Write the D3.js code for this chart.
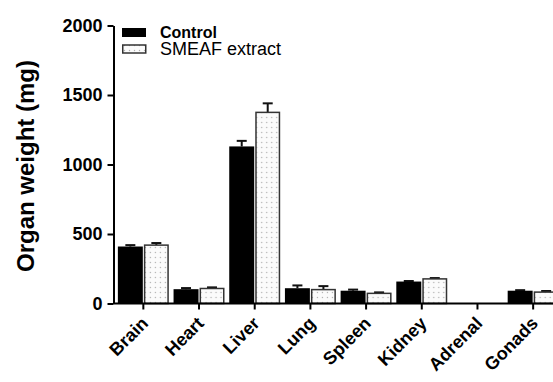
<!DOCTYPE html>
<head>
<meta charset="utf-8">
<style>
body { margin: 0; background: #fff; }
text { font-family: "Liberation Sans", Arial, sans-serif; }
.axis path, .axis line { stroke: #000; stroke-width: 2px; }
.axis text { font-size: 18px; font-weight: bold; fill: #000; }
</style>
</head>
<body>
<script src="https://cdn.jsdelivr.net/npm/d3@7"></script>
<script>

// data
var organs = ["Brain", "Heart", "Liver", "Lung", "Spleen", "Kidney", "Adrenal", "Gonads"];
var controlMean = [410, 103, 1130, 110, 92, 158, 0, 92];
var controlErr  = [10, 8, 40, 20, 8, 4, 0, 4];
var smeafMean   = [420, 108, 1375, 100, 73, 177, 0, 82];
var smeafErr    = [15, 8, 65, 25, 7, 6, 0, 8];
var groups = ["Control", "SMEAF extract"];
var yTicks = [0, 500, 1000, 1500, 2000];

var width = 553, height = 382;

var svg = d3.select("body").append("svg")
    .attr("width", width)
    .attr("height", height);

// dotted fill for the extract bars
var pat = svg.append("defs").append("pattern")
    .attr("id", "dots")
    .attr("patternUnits", "userSpaceOnUse")
    .attr("width", 5).attr("height", 5);
pat.append("rect").attr("width", 5).attr("height", 5).attr("fill", "#fbfbfb");
pat.append("circle").attr("cx", 2.5).attr("cy", 2.5).attr("r", 0.7).attr("fill", "#b0b0b0");

// scales
var x = d3.scaleBand().domain(organs).range([115.5, 561])
    .paddingInner(0.085).paddingOuter(0.0425);
var xSub = d3.scaleBand().domain(groups).range([0, x.bandwidth()]).paddingInner(0.04);
var y = d3.scaleLinear().domain([0, 2000]).range([303.5, 25.5]);

var rows = organs.map(function(o, i) {
  return [
    {organ: o, group: groups[0], v: controlMean[i], e: controlErr[i]},
    {organ: o, group: groups[1], v: smeafMean[i], e: smeafErr[i]}
  ];
});

var g = svg.selectAll(".organ").data(rows).enter().append("g")
    .attr("class", "organ")
    .attr("transform", function(d) { return "translate(" + x(d[0].organ) + ",0)"; });

var bar = g.selectAll(".bar").data(function(d) { return d; }).enter().append("g");

// error bars (upper half only)
bar.filter(function(d) { return d.e > 0; }).append("line")
    .attr("x1", function(d) { return xSub(d.group) + xSub.bandwidth() / 2; })
    .attr("x2", function(d) { return xSub(d.group) + xSub.bandwidth() / 2; })
    .attr("y1", function(d) { return y(d.v); })
    .attr("y2", function(d) { return y(d.v + d.e); })
    .attr("stroke", "#111").attr("stroke-width", 2);
bar.filter(function(d) { return d.e > 0; }).append("line")
    .attr("x1", function(d) { return xSub(d.group) + xSub.bandwidth() / 2 - 5; })
    .attr("x2", function(d) { return xSub(d.group) + xSub.bandwidth() / 2 + 5; })
    .attr("y1", function(d) { return y(d.v + d.e); })
    .attr("y2", function(d) { return y(d.v + d.e); })
    .attr("stroke", "#111").attr("stroke-width", 2);

bar.append("rect")
    .attr("x", function(d) { return xSub(d.group) + (d.group === groups[1] ? 0.75 : 0); })
    .attr("width", function(d) { return xSub.bandwidth() - (d.group === groups[1] ? 1.5 : 0); })
    .attr("y", function(d) { return y(d.v); })
    .attr("height", function(d) { return y(0) - y(d.v); })
    .attr("fill", function(d) { return d.group === groups[0] ? "#000" : "url(#dots)"; })
    .attr("stroke", function(d) { return d.group === groups[0] ? "none" : "#333"; })
    .attr("stroke-width", 1.5);

// y axis
var axisX = x.range()[0] - 2;
svg.append("g")
    .attr("class", "axis")
    .attr("transform", "translate(" + axisX + ",0)")
    .call(d3.axisLeft(y).tickValues(yTicks).tickFormat(d3.format("d"))
      .tickSize(6).tickSizeOuter(0).tickPadding(5));

// x axis
var xa = svg.append("g")
    .attr("class", "axis")
    .attr("transform", "translate(0," + y(0) + ")")
    .call(d3.axisBottom(x).tickSize(6).tickSizeOuter(0));
xa.select(".domain").remove();
xa.append("line")
    .attr("x1", axisX).attr("x2", x.range()[1])
    .attr("stroke", "#000").attr("stroke-width", 2);
xa.selectAll(".tick text")
    .attr("text-anchor", "end")
    .attr("font-size", "20px")
    .attr("x", 0).attr("y", 0).attr("dy", 0)
    .attr("transform", "translate(6,21) rotate(-45)");

// y title
svg.append("text")
    .attr("transform", "translate(34,166) rotate(-90)")
    .attr("text-anchor", "middle")
    .attr("font-size", "24px")
    .attr("font-weight", "bold")
    .text("Organ weight (mg)");

// legend
var leg = svg.append("g").attr("transform", "translate(122,28)");
leg.append("rect").attr("x", 0).attr("y", 0).attr("width", 24).attr("height", 9).attr("fill", "#000");
leg.append("rect").attr("x", 0.75).attr("y", 17).attr("width", 23).attr("height", 8)
    .attr("fill", "url(#dots)").attr("stroke", "#333").attr("stroke-width", 1.5);
leg.append("text").attr("x", 38).attr("y", 10).attr("font-size", "16px").attr("font-weight", "bold").text(groups[0]);
leg.append("text").attr("x", 38).attr("y", 27).attr("font-size", "18px").text(groups[1]);

</script>
</body>
